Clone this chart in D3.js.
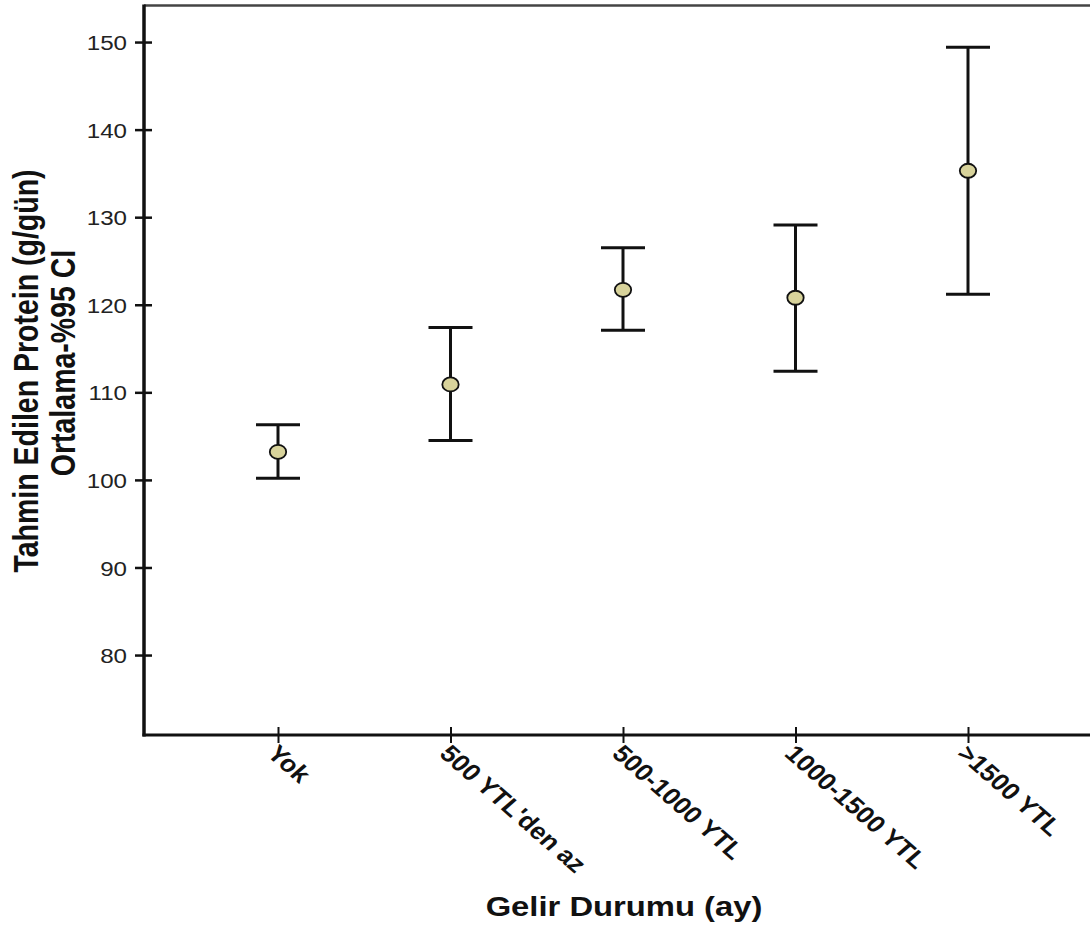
<!DOCTYPE html>
<html>
<head>
<meta charset="utf-8">
<script src="https://cdn.jsdelivr.net/npm/d3@7"></script>
<style>
  html, body { margin: 0; padding: 0; background: #fff; }
  svg { display: block; font-family: "Liberation Sans", Arial, Helvetica, sans-serif; }
</style>
</head>
<body>
<div id="chart"></div>
<script>
// ---- data ----
const categories = ["Yok", "500 YTL'den az", "500-1000 YTL", "1000-1500 YTL", ">1500 YTL"];
const means = [103.2, 110.9, 121.7, 120.8, 135.3];
const lowerCI = [100.2, 104.5, 117.1, 112.4, 121.2];
const upperCI = [106.3, 117.4, 126.5, 129.1, 149.4];
const yTicks = [80, 90, 100, 110, 120, 130, 140, 150];
const yTitleLines = ["Tahmin Edilen Protein (g/gün)", "Ortalama-%95 CI"];
const xTitle = "Gelir Durumu (ay)";

// ---- layout ----
const W = 1090, H = 925;
const plotLeft = 144, plotTop = 5, plotBottom = 735, plotRight = 1090;
const sx = 1.15; // horizontal stretch of glyphs seen in the reference

const svg = d3.select("#chart").append("svg").attr("width", W).attr("height", H);

const y = d3.scaleLinear().domain([70.87, 154.23]).range([plotBottom, plotTop]);
const x = d3.scalePoint().domain(categories).range([278, 968]);

// frame top line
svg.append("line").attr("x1", plotLeft).attr("x2", plotRight).attr("y1", plotTop + 0.5).attr("y2", plotTop + 0.5)
  .attr("stroke", "#444").attr("stroke-width", 2.5);

// y axis
const yAxis = d3.axisLeft(y).tickValues(yTicks).tickSize(0).tickFormat(d3.format("d"));
const gy = svg.append("g").attr("transform", `translate(${plotLeft},0)`).call(yAxis);
gy.select(".domain").remove();
gy.selectAll(".tick text").remove();
gy.selectAll(".tick line").attr("x1", -9).attr("x2", 8).attr("stroke", "#111").attr("stroke-width", 2.5);
gy.selectAll(".tick").append("text")
  .attr("transform", `translate(-17,0) scale(${sx},1)`)
  .attr("text-anchor", "end").attr("dy", "0.36em")
  .attr("fill", "#222").attr("font-size", 21)
  .text(d => d);

// x axis
const xAxis = d3.axisBottom(x).tickSize(0);
const gx = svg.append("g").attr("transform", `translate(0,${plotBottom})`).call(xAxis);
gx.select(".domain").remove();
gx.selectAll(".tick text").remove();
gx.selectAll(".tick line").attr("y1", -8).attr("y2", 8).attr("stroke", "#111").attr("stroke-width", 2);
gx.selectAll(".tick").append("text")
  .attr("transform", `translate(1,8) scale(${sx},1) rotate(45)`)
  .attr("text-anchor", "start").attr("dy", "0.72em")
  .attr("fill", "#111").attr("font-size", 23.5).attr("font-weight", "bold")
  .text(d => d);

// axis lines
svg.append("line").attr("x1", plotLeft).attr("x2", plotLeft).attr("y1", plotTop - 0.5).attr("y2", plotBottom + 1.5)
  .attr("stroke", "#111").attr("stroke-width", 3.5);
svg.append("line").attr("x1", plotLeft - 1.5).attr("x2", plotRight).attr("y1", plotBottom).attr("y2", plotBottom)
  .attr("stroke", "#111").attr("stroke-width", 3);

// error bars
const capW = 44;
const bars = svg.append("g").selectAll("g").data(categories).join("g");
bars.append("line")
  .attr("x1", d => x(d)).attr("x2", d => x(d))
  .attr("y1", (d, i) => y(upperCI[i])).attr("y2", (d, i) => y(lowerCI[i]))
  .attr("stroke", "#111").attr("stroke-width", 3);
bars.append("line")
  .attr("x1", d => x(d) - capW / 2).attr("x2", d => x(d) + capW / 2)
  .attr("y1", (d, i) => y(upperCI[i])).attr("y2", (d, i) => y(upperCI[i]))
  .attr("stroke", "#111").attr("stroke-width", 3);
bars.append("line")
  .attr("x1", d => x(d) - capW / 2).attr("x2", d => x(d) + capW / 2)
  .attr("y1", (d, i) => y(lowerCI[i])).attr("y2", (d, i) => y(lowerCI[i]))
  .attr("stroke", "#111").attr("stroke-width", 3);
bars.append("ellipse")
  .attr("cx", d => x(d)).attr("cy", (d, i) => y(means[i]))
  .attr("rx", 8.2).attr("ry", 7)
  .attr("fill", "#d8d39b").attr("stroke", "#111").attr("stroke-width", 1.8);

// y title (two lines)
const yCenters = [371, 363];
const yBaselines = [38, 75];
yTitleLines.forEach((t, i) => {
  svg.append("text")
    .attr("transform", `translate(${yBaselines[i]},${yCenters[i]}) scale(1.2,1) rotate(-90)`)
    .attr("text-anchor", "middle")
    .attr("font-size", 28.5).attr("font-weight", "bold").attr("fill", "#111")
    .text(t);
});

// x title
svg.append("text")
  .attr("transform", `translate(624,916) scale(${sx},1)`)
  .attr("text-anchor", "middle")
  .attr("font-size", 28.5).attr("font-weight", "bold").attr("fill", "#111")
  .text(xTitle);
</script>
</body>
</html>
